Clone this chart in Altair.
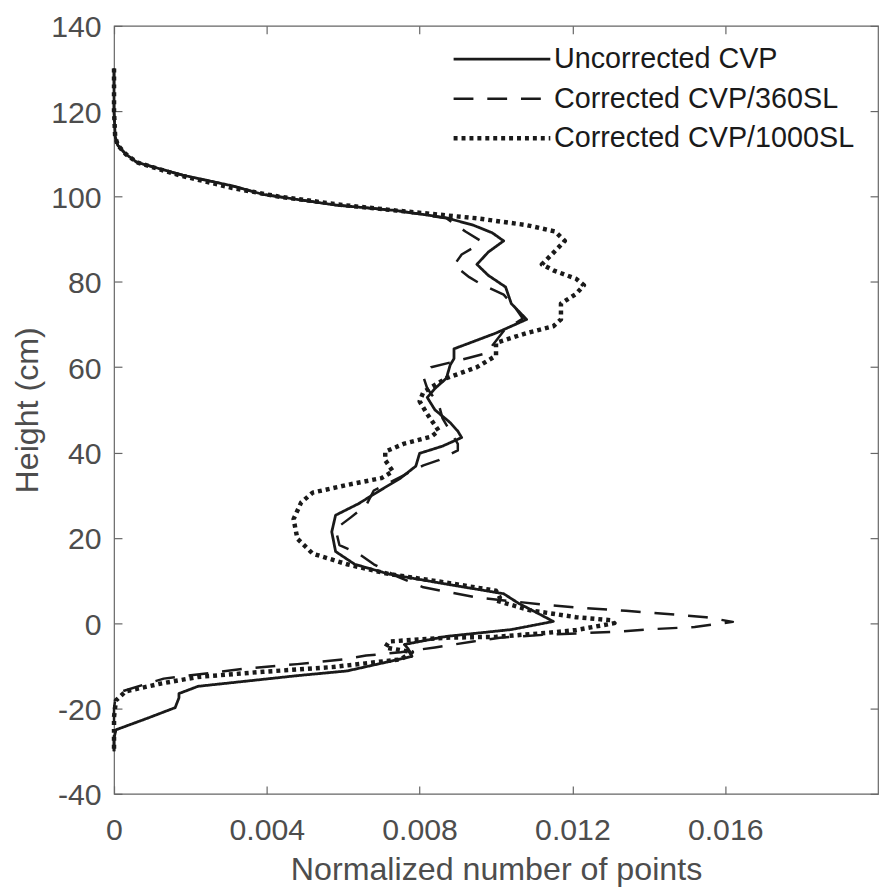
import altair as alt
import pandas as pd

# ---- data (height in cm, normalized number of points) ----
series_names = ["Uncorrected CVP", "Corrected CVP/360SL", "Corrected CVP/1000SL"]

uncorr_h = [130, 120, 114, 112, 110, 108, 105, 102.5, 100.5, 98, 96.7, 95, 93.3, 91.5, 89.6, 87,
            84.1, 81.5, 78.8, 74.9, 71.2, 68.0, 64.3, 62.0, 60.5, 57.4, 55, 52.9, 50, 47, 45, 43.5,
            41.5, 39.8, 36.8, 34, 31.3, 28, 25.3, 21.4, 16.8, 13.8, 11.5, 9, 6.9, 4.6, 2.3, 0.4,
            -1.5, -3.1, -5.0, -6.0, -7.8, -9, -11.2, -12.3, -14.8, -16.5, -17.5, -19.8, -22.2,
            -25.0, -27, -30]
uncorr_v = [0, 0, 0.00003, 0.0001, 0.0003, 0.0006, 0.0018, 0.0031, 0.0039, 0.0058, 0.0074, 0.0087,
            0.0094, 0.0099, 0.0102, 0.0098, 0.0095, 0.0098, 0.01025, 0.0104, 0.0108, 0.0100, 0.0089,
            0.0089, 0.0088, 0.0087, 0.0084, 0.0082, 0.0084, 0.0088, 0.0090, 0.0091, 0.0086, 0.0080,
            0.0079, 0.0075, 0.0070, 0.0064, 0.0058, 0.0057, 0.0058, 0.0063, 0.0072, 0.0088, 0.0102,
            0.0106, 0.0111, 0.0115, 0.0104, 0.0087, 0.0076, 0.0077, 0.0078, 0.0072, 0.0061, 0.0048,
            0.0022, 0.0017, 0.0017, 0.0016, 0.0009, 0.00005, 0, 0]

c360_h = [130, 120, 114, 112, 110, 108, 105, 102.5, 100.5, 98, 96.7, 94.9, 91.8, 89.6, 88, 86.4,
          83.9, 81.1, 79.5, 77.0, 74, 71.4, 68.5, 65, 63.4, 62.2, 60.0, 57.7, 55, 51.3, 48, 45, 42,
          40.5, 38.2, 37.0, 35.2, 31.1, 27.6, 24.8, 22.1, 18.3, 16.3, 13.8, 11, 8.4, 6.0, 4.4, 3.6,
          2.9, 2.2, 1.4, 0.3, -0.9, -1.4, -2.0, -2.7, -3.4, -4.3, -5.7, -6.8, -7.6, -8.5, -9.6,
          -10.7, -13.0, -16.0, -18, -20, -30]
c360_v = [0, 0, 0.00003, 0.0001, 0.0003, 0.0006, 0.0018, 0.0031, 0.0039, 0.0058, 0.0074, 0.0087,
          0.0092, 0.0096, 0.0094, 0.0091, 0.0089, 0.0093, 0.0096, 0.0102, 0.0105, 0.0107, 0.0102,
          0.0099, 0.0098, 0.0093, 0.0083, 0.0081, 0.0082, 0.0085, 0.0086, 0.0088, 0.0090, 0.0090,
          0.0085, 0.0081, 0.0077, 0.0068, 0.0066, 0.0062, 0.0058, 0.0059, 0.0064, 0.0068, 0.0074,
          0.0081, 0.0095, 0.0112, 0.0122, 0.0134, 0.0144, 0.0155, 0.0162, 0.0152, 0.0141, 0.0132,
          0.0113, 0.0101, 0.0094, 0.0084, 0.0075, 0.0066, 0.0060, 0.0048, 0.0034, 0.0013, 0.0002,
          0.00003, 0, 0]

c1000_h = [130, 120, 114, 112, 110, 108, 105, 102, 100, 98, 96.7, 94.9, 93.3, 91.8, 89.6, 86.8,
           84.1, 82.7, 80.7, 79.2, 77.2, 74.9, 71.2, 69.6, 68.0, 65.7, 62.7, 60.0, 57.4, 54.2, 52.0,
           49.0, 45.1, 43.7, 42.1, 40.2, 38.2, 35.6, 34.0, 32.4, 30.6, 28.3, 24.4, 19.8, 16.3, 13.8,
           11.5, 9.5, 7.6, 6, 5.3, 3.0, 1.4, 0.7, 0.0, -1.6, -2.3, -3.2, -3.4, -4.3, -5.7, -6.8,
           -8.5, -10.3, -11.4, -12.6, -14.2, -16.0, -18.1, -22, -30]
c1000_v = [0, 0, 0.00003, 0.0001, 0.0003, 0.0006, 0.0017, 0.0031, 0.0043, 0.0060, 0.0074, 0.0095,
           0.0108, 0.01155, 0.0118, 0.0115, 0.0112, 0.0115, 0.0121, 0.0123, 0.0121, 0.0117, 0.0117,
           0.0115, 0.0108, 0.0100, 0.0100, 0.0095, 0.0087, 0.0081, 0.0080, 0.0082, 0.0085, 0.0083,
           0.0076, 0.0071, 0.0071, 0.0073, 0.0070, 0.0061, 0.0052, 0.0049, 0.0047, 0.0048, 0.0052,
           0.0061, 0.0072, 0.0087, 0.0100, 0.0101, 0.0100, 0.0109, 0.0121, 0.0130, 0.0131, 0.0121,
           0.0113, 0.0100, 0.0087, 0.0072, 0.0071, 0.0078, 0.0075, 0.0057, 0.0039, 0.0022, 0.0012,
           0.0003, 0.00005, 0, 0]

x_ticks = [0, 0.004, 0.008, 0.012, 0.016]
y_ticks = [-40, -20, 0, 20, 40, 60, 80, 100, 120, 140]

# ---- build table ----
rows = []
for name, hs, vs in [(series_names[0], uncorr_h, uncorr_v),
                     (series_names[1], c360_h, c360_v),
                     (series_names[2], c1000_h, c1000_v)]:
    assert len(hs) == len(vs), name
    for i, (h, v) in enumerate(zip(hs, vs)):
        rows.append({"series": name, "idx": i, "h": h, "v": v})
df = pd.DataFrame(rows)

FONT = "Liberation Sans"
GRAY = "#4d4d4d"
AXIS_GRAY = "#666666"

xs = alt.Scale(domain=[0, 0.02], nice=False, zero=False)
ys = alt.Scale(domain=[-40, 140], nice=False, zero=False)

x_axis = alt.Axis(values=x_ticks, format=".3~f", orient="bottom", offset=-8, tickSize=8,
                  domain=False, labelPadding=22, labelFlush=False,
                  title="Normalized number of points", titlePadding=8, grid=False)
y_axis = alt.Axis(values=y_ticks, labelExpr="'' + datum.value", orient="left", offset=-8,
                  tickSize=8, domain=False, labelPadding=13, labelOffset=2, labelFlush=False,
                  title="Height (cm)", titlePadding=6, grid=False)

legend_opts = dict(title=None, orient="none", legendX=377, legendY=19,
                   symbolType="M-4.2,0H4.2", symbolSize=540, symbolStrokeColor="#1a1a1a",
                   symbolFillColor="transparent", labelOffset=38, labelFont=FONT,
                   labelFontSize=29, labelColor="#1a1a1a", labelLimit=400,
                   rowPadding=10, padding=0)

lines = alt.Chart(df).mark_line(color="#1a1a1a", strokeCap="butt", strokeJoin="round").encode(
    x=alt.X("v:Q", scale=xs, axis=x_axis),
    y=alt.Y("h:Q", scale=ys, axis=y_axis),
    strokeDash=alt.StrokeDash(
        "series:N",
        scale=alt.Scale(domain=series_names, range=[[1, 0], [20, 14], [4, 4]]),
        legend=alt.Legend(**legend_opts),
    ),
    strokeWidth=alt.StrokeWidth(
        "series:N",
        scale=alt.Scale(type="ordinal", domain=series_names, range=[2.8, 2.5, 4.5]),
        legend=alt.Legend(**legend_opts),
    ),
    order=alt.Order("idx:Q"),
)

frame_ticks = alt.Chart(df).mark_point(opacity=0).encode(
    x=alt.X("v:Q", scale=xs, axis=alt.Axis(values=x_ticks, orient="top", offset=-8, tickSize=8,
                                           domain=False, labels=False, title=None, grid=False)),
    y=alt.Y("h:Q", scale=ys, axis=alt.Axis(values=y_ticks, orient="right", offset=-8, tickSize=8,
                                           domain=False, labels=False, title=None, grid=False)),
)

chart = alt.layer(lines, frame_ticks).resolve_axis(
    x="independent", y="independent"
).properties(
    width=771, height=775,
    autosize=alt.AutoSizeParams(type="none"),
    padding={"left": 107, "top": 14, "right": 1, "bottom": 90},
).configure_view(
    stroke=AXIS_GRAY, strokeWidth=1.2
).configure_axis(
    tickColor=AXIS_GRAY, tickWidth=1.2, labelColor=GRAY, titleColor=GRAY,
    labelFont=FONT, titleFont=FONT, labelFontSize=30.5, titleFontSize=32.5,
    titleFontWeight="normal",
)

chart.save("out.html", embed_options={"renderer": "svg", "actions": False})
